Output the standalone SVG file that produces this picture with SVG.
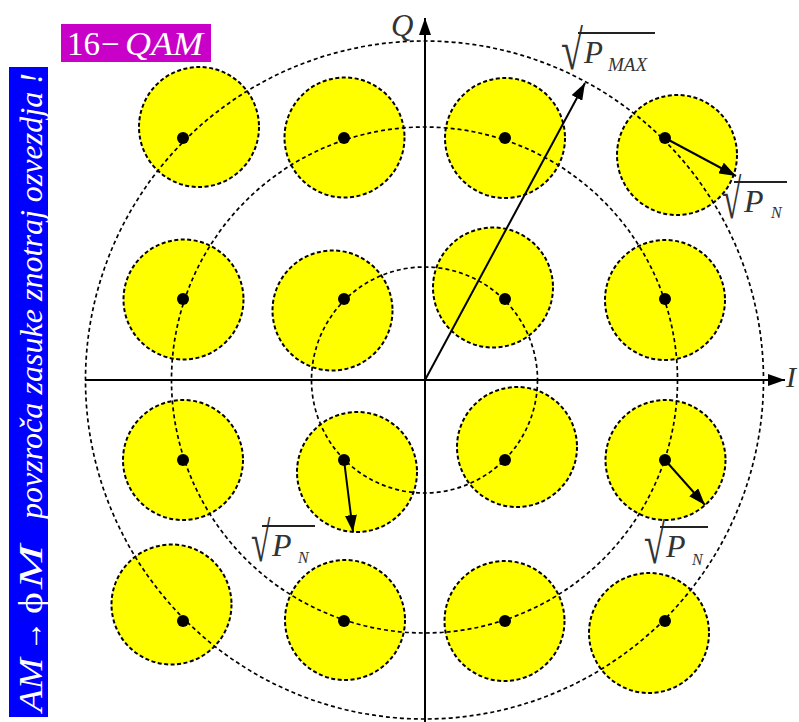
<svg xmlns="http://www.w3.org/2000/svg" width="799" height="722" viewBox="0 0 799 722">
<style>
.zone{fill:#FFFF00;stroke:#000;stroke-width:2;stroke-dasharray:4 2.5}
.ring{fill:none;stroke:#000;stroke-width:1.7;stroke-dasharray:4 3}
.dot{fill:#000}
.axis{stroke:#000;stroke-width:2;fill:none}
.vec{stroke:#000;stroke-width:2;fill:none}
.serif{font-family:'Liberation Serif','DejaVu Serif',serif}
.lbl{font-family:'Liberation Serif','DejaVu Serif',serif;fill:#333}
.it{font-style:italic}
.bar{stroke:#222;stroke-width:1.8}
</style>
<defs>
<marker id="ah" markerUnits="userSpaceOnUse" markerWidth="18" markerHeight="12" refX="17" refY="6" orient="auto">
<path d="M0,0 L17,6 L0,12 z" fill="#000"/>
</marker>
</defs>
<rect width="799" height="722" fill="#fff"/>

<g id="title-box">
<rect x="61" y="24" width="150" height="38" fill="#C800C8"/>
<text class="serif" y="55" font-size="33" fill="#fff"><tspan x="67">16</tspan><tspan x="101">−</tspan><tspan class="it" x="125" textLength="78" lengthAdjust="spacingAndGlyphs">QAM</tspan></text>
</g>

<g id="side-box">
<rect x="9" y="67" width="39" height="650" fill="#0000FF"/>
<text class="serif" transform="translate(42,712) rotate(-90)" font-size="34" fill="#fff"><tspan class="it" x="0" textLength="54" lengthAdjust="spacingAndGlyphs">AM</tspan><tspan x="61" textLength="30" lengthAdjust="spacingAndGlyphs">→</tspan><tspan x="98" textLength="22" lengthAdjust="spacingAndGlyphs">ϕ</tspan><tspan class="it" x="123" textLength="44" lengthAdjust="spacingAndGlyphs">M</tspan></text>
<text class="serif it" transform="translate(42,519) rotate(-90)" font-size="32" fill="#fff" textLength="446" lengthAdjust="spacingAndGlyphs">povzroča zasuke znotraj ozvezdja !</text>
</g>

<g id="zones">
<circle id="z11" class="zone" cx="199" cy="127" r="60"/>
<circle id="z12" class="zone" cx="344.5" cy="137.5" r="60"/>
<circle id="z13" class="zone" cx="505" cy="138" r="60"/>
<circle id="z14" class="zone" cx="677" cy="155" r="60"/>
<circle id="z21" class="zone" cx="183.5" cy="299.5" r="60"/>
<circle id="z22" class="zone" cx="332.5" cy="310.5" r="60"/>
<circle id="z23" class="zone" cx="493" cy="287.5" r="60"/>
<circle id="z24" class="zone" cx="665" cy="300" r="60"/>
<circle id="z31" class="zone" cx="183" cy="460" r="60"/>
<circle id="z32" class="zone" cx="357" cy="472" r="60"/>
<circle id="z33" class="zone" cx="517" cy="447" r="60"/>
<circle id="z34" class="zone" cx="665.5" cy="460" r="60"/>
<circle id="z41" class="zone" cx="171.5" cy="604.5" r="60"/>
<circle id="z42" class="zone" cx="345" cy="620" r="60"/>
<circle id="z43" class="zone" cx="504.5" cy="621" r="60"/>
<circle id="z44" class="zone" cx="649" cy="633" r="60"/>
</g>

<g id="rings">
<circle class="ring" cx="424.5" cy="380" r="113"/>
<circle class="ring" cx="424.5" cy="380" r="253"/>
<circle class="ring" cx="424.5" cy="380" r="339"/>
</g>

<g id="connectors">
<line class="axis" x1="85" y1="380" x2="785" y2="380" marker-end="url(#ah)"/>
<line class="axis" x1="425" y1="722" x2="425" y2="18" marker-end="url(#ah)"/>
<line class="vec" x1="425" y1="380" x2="585" y2="83" marker-end="url(#ah)"/>
<line class="vec" x1="665" y1="138" x2="736" y2="176" marker-end="url(#ah)"/>
<line class="vec" x1="344" y1="460" x2="353" y2="532" marker-end="url(#ah)"/>
<line class="vec" x1="665" y1="460" x2="705" y2="505" marker-end="url(#ah)"/>
</g>

<g id="points">
<circle id="p11" class="dot" cx="183" cy="138" r="6"/>
<circle id="p12" class="dot" cx="344" cy="138" r="6"/>
<circle id="p13" class="dot" cx="505" cy="138" r="6"/>
<circle id="p14" class="dot" cx="665" cy="138" r="6"/>
<circle id="p21" class="dot" cx="183" cy="299" r="6"/>
<circle id="p22" class="dot" cx="344" cy="299" r="6"/>
<circle id="p23" class="dot" cx="505" cy="299" r="6"/>
<circle id="p24" class="dot" cx="665" cy="299" r="6"/>
<circle id="p31" class="dot" cx="183" cy="460" r="6"/>
<circle id="p32" class="dot" cx="344" cy="460" r="6"/>
<circle id="p33" class="dot" cx="505" cy="460" r="6"/>
<circle id="p34" class="dot" cx="665" cy="460" r="6"/>
<circle id="p41" class="dot" cx="183" cy="621" r="6"/>
<circle id="p42" class="dot" cx="344" cy="621" r="6"/>
<circle id="p43" class="dot" cx="505" cy="621" r="6"/>
<circle id="p44" class="dot" cx="665" cy="621" r="6"/>
</g>

<g id="labels">
<text class="lbl it" x="391" y="36" font-size="31">Q</text>
<text class="lbl it" x="786" y="387" font-size="30">I</text>

<g id="lbl-pmax">
<text class="lbl" transform="translate(561,69) scale(1.25,1.75)" font-size="32">√</text>
<line class="bar" x1="578" y1="33" x2="655" y2="33"/>
<text class="lbl it" x="584" y="63" font-size="31">P</text>
<text class="lbl it" x="608" y="71" font-size="19">MAX</text>
</g>

<g id="lbl-pn1">
<text class="lbl" transform="translate(722,218) scale(1.1,1.75)" font-size="32">√</text>
<line class="bar" x1="734" y1="182" x2="787" y2="182"/>
<text class="lbl it" x="744" y="212" font-size="32">P</text>
<text class="lbl it" x="771" y="218" font-size="16">N</text>
</g>

<g id="lbl-pn2">
<text class="lbl" transform="translate(251,561) scale(1.1,1.75)" font-size="32">√</text>
<line class="bar" x1="262" y1="526" x2="315" y2="526"/>
<text class="lbl it" x="272" y="556" font-size="32">P</text>
<text class="lbl it" x="298" y="563" font-size="16">N</text>
</g>

<g id="lbl-pn3">
<text class="lbl" transform="translate(644,563) scale(1.2,1.75)" font-size="32">√</text>
<line class="bar" x1="660" y1="527" x2="708" y2="527"/>
<text class="lbl it" x="666" y="557" font-size="32">P</text>
<text class="lbl it" x="692" y="565" font-size="16">N</text>
</g>
</g>
</svg>
